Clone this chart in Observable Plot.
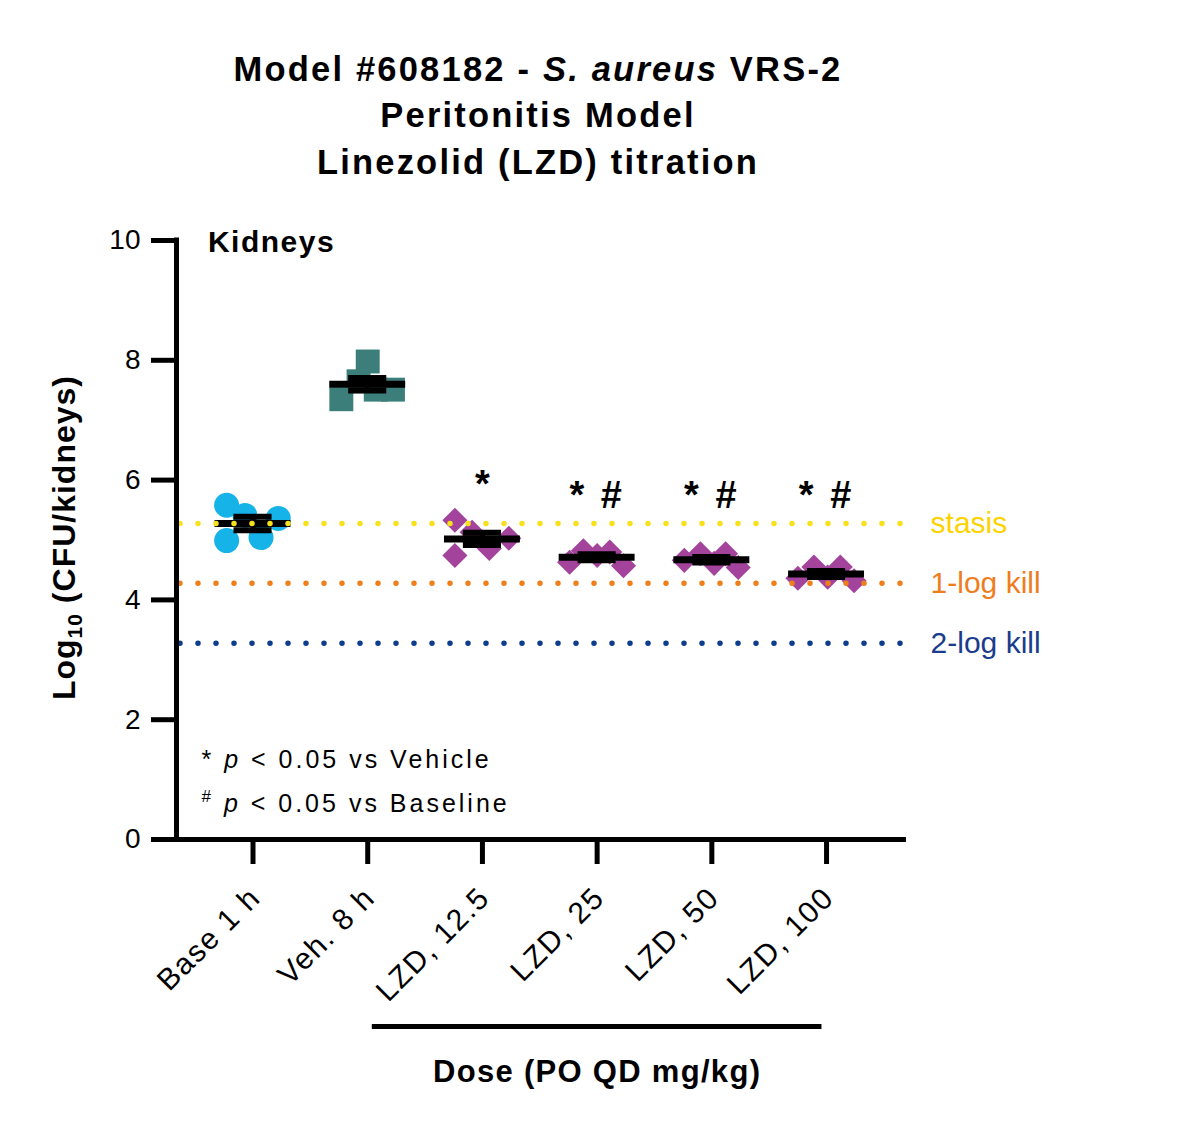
<!DOCTYPE html>
<html>
<head>
<meta charset="utf-8">
<script src="https://cdn.jsdelivr.net/npm/d3@7"></script>
<script src="https://cdn.jsdelivr.net/npm/@observablehq/plot@0.6"></script>
<style>
  html, body { margin: 0; padding: 0; background: #fff; }
  body { width: 1193px; height: 1134px; overflow: hidden; font-family: "Liberation Sans", Arial, sans-serif; }
  #title { box-sizing: border-box; width: 1076px; height: 200px; padding-top: 45.6px; text-align: center;
           font-weight: bold; font-size: 34.5px; line-height: 46.5px; letter-spacing: 2.2px; color: #000; }
  #chart svg { display: block; overflow: visible; }
</style>
</head>
<body>
<div id="title">Model #608182 - <i>S. aureus</i> VRS-2<br>Peritonitis Model<br>Linezolid (LZD) titration</div>
<div id="chart"></div>
<script>
// ---- data ----
const groups = ["Base 1 h", "Veh. 8 h", "LZD, 12.5", "LZD, 25", "LZD, 50", "LZD, 100"];
const baseVals   = [5.58, 5.41, 5.36, 4.99, 5.04];
const vehVals    = [7.98, 7.35, 7.51, 7.51, 7.65];
const lzd125Vals = [5.33, 4.74, 5.13, 4.86, 5.03];
const lzd25Vals  = [4.63, 4.82, 4.74, 4.80, 4.57];
const lzd50Vals  = [4.66, 4.77, 4.61, 4.77, 4.54];
const lzd100Vals = [4.36, 4.55, 4.38, 4.55, 4.32];
// horizontal scatter of the points within each group (category units)
const baseJit   = [-0.23, -0.07, 0.22, -0.23, 0.07];
const vehJit    = [0.00, -0.23, 0.07, 0.22, -0.08];
const lzd125Jit = [-0.24, -0.24, -0.09, 0.06, 0.23];
const lzd25Jit  = [-0.24, -0.12, 0.00, 0.11, 0.23];
const lzd50Jit  = [-0.24, -0.10, 0.02, 0.12, 0.23];
const lzd100Jit = [-0.25, -0.11, 0.01, 0.12, 0.24];
const sigMarks  = ["", "", "*", "* #", "* #", "* #"];
const yTicks    = [0, 2, 4, 6, 8, 10];
const refNames  = ["stasis", "1-log kill", "2-log kill"];
const refKills  = [0, 1, 2];

const allVals = [baseVals, vehVals, lzd125Vals, lzd25Vals, lzd50Vals, lzd100Vals];
const allJit  = [baseJit, vehJit, lzd125Jit, lzd25Jit, lzd50Jit, lzd100Jit];

const rows = [];
allVals.forEach((vals, g) => vals.forEach((v, k) => rows.push({g, x: g + allJit[g][k], y: v})));
const stats = allVals.map((vals, i) => {
  const m = d3.mean(vals), s = d3.deviation(vals) / Math.sqrt(vals.length);
  return {i, mean: m, lo: m - s, hi: m + s, sig: sigMarks[i], label: groups[i]};
});
const baseMean = stats[0].mean;
const refColors = ["#F7E11A", "#EF7F1A", "#0E3D8E"];
const refTextColors = ["#FCD200", "#EE7D1E", "#1A3C8C"];
const refs = refNames.map((n, k) => ({name: n, value: baseMean - refKills[k], stroke: refColors[k], text: refTextColors[k]}));

const xDomain = [-0.667, 5.697];
const CYAN = "#15B3E8", TEAL = "#3C7E7A", PURPLE = "#A3439B";

const plot = Plot.plot({
  width: 1193,
  height: 934,
  marginLeft: 176,
  marginRight: 287,
  marginTop: 40,
  marginBottom: 295,
  style: {fontFamily: '"Liberation Sans", Arial, sans-serif', color: "#000", background: "#fff", overflow: "visible"},
  x: {type: "linear", domain: xDomain},
  y: {domain: [0, 10]},
  marks: [
    Plot.axisY({ticks: yTicks, tickSize: 25, tickPadding: 11, fontSize: 28, strokeWidth: 5, label: null}),
    Plot.axisX({ticks: d3.range(groups.length), tickFormat: () => "", tickSize: 25, strokeWidth: 5, label: null}),
    // category labels, rotated
    Plot.text(stats, {x: "i", y: 0, text: "label", rotate: -45, textAnchor: "end", lineAnchor: "top",
                      dx: -6, dy: 45, fontSize: 30}),
    // points
    Plot.dot(rows.filter(d => d.g === 0), {x: "x", y: "y", r: 12.5, fill: CYAN, symbol: "circle"}),
    Plot.dot(rows.filter(d => d.g === 1), {x: "x", y: "y", r: 13.5, fill: TEAL, symbol: "square"}),
    Plot.dot(rows.filter(d => d.g >= 2), {x: "x", y: "y", r: 10, rotate: 45, fill: PURPLE, symbol: "square"}),
    // mean and SEM
    Plot.ruleX(stats, {x: "i", y1: "lo", y2: "hi", strokeWidth: 5}),
    Plot.ruleY(stats, {y: "hi", x1: d => d.i - 0.166, x2: d => d.i + 0.166, strokeWidth: 6}),
    Plot.ruleY(stats, {y: "lo", x1: d => d.i - 0.166, x2: d => d.i + 0.166, strokeWidth: 6}),
    Plot.ruleY(stats, {y: "mean", x1: d => d.i - 0.331, x2: d => d.i + 0.331, strokeWidth: 7}),
    // reference lines
    Plot.ruleY(refs, {y: "value", x1: xDomain[0], x2: 5.62, stroke: "stroke", strokeWidth: 5.5,
                      strokeDasharray: "0 18", strokeLinecap: "round", dx: 4}),
    Plot.text(refs, {x: 5.907, y: "value", text: "name", fill: "text", textAnchor: "start", lineAnchor: "middle", fontSize: 30}),
    // axes lines
    Plot.ruleX([xDomain[0]], {y1: 0, y2: 10, strokeWidth: 5, strokeLinecap: "square"}),
    Plot.ruleY([0], {x1: xDomain[0], x2: xDomain[1], strokeWidth: 5}),
    // significance
    Plot.text(stats.filter(d => d.sig === "*"), {x: "i", y: 5.72, text: "sig", fontSize: 38, fontWeight: "bold", lineAnchor: "bottom"}),
    Plot.text(stats.filter(d => d.sig === "* #"), {x: "i", y: 5.54, text: "sig", fontSize: 38, fontWeight: "bold", lineAnchor: "bottom"}),
    // panel label
    Plot.text(["Kidneys"], {x: -0.393, y: 9.8, text: d => d, fontSize: 30, fontWeight: "bold", textAnchor: "start", lineAnchor: "bottom"}),
    // dose bracket + label
    Plot.ruleY([-3.12], {x1: 1.04, x2: 4.96, strokeWidth: 5}),
    Plot.text(["Dose (PO QD mg/kg)"], {x: 3.0, y: -4.05, text: d => d, fontSize: 31, fontWeight: "bold", lineAnchor: "bottom"})
  ]
});

document.getElementById("chart").appendChild(plot);

const svg = d3.select(plot);
const xs = plot.scale("x"), ys = plot.scale("y");
const spacing = {"Kidneys": "1.5px", "Dose (PO QD mg/kg)": "1.3px", "* #": "3px"};
groups.forEach(g => spacing[g] = "1.6px");
svg.selectAll("text").each(function() {
  const s = spacing[this.textContent];
  if (s) d3.select(this).style("letter-spacing", s);
});

// y axis title with subscript
const yl = svg.append("text")
  .attr("transform", `translate(75, ${ys.apply(5) - 2}) rotate(-90)`)
  .attr("text-anchor", "middle")
  .attr("font-weight", "bold").attr("font-size", 32).style("letter-spacing", "1px").attr("fill", "#000");
yl.append("tspan").text("Log");
yl.append("tspan").attr("font-size", 21).attr("dy", 7).text("10");
yl.append("tspan").attr("dy", -7).text(" (CFU/kidneys)");

// legend
const legX = xs.apply(-0.445);
const l1 = svg.append("text").attr("x", legX).attr("y", ys.apply(1.185)).attr("text-anchor", "start")
  .attr("font-size", 25).style("letter-spacing", "3px").attr("fill", "#000");
l1.append("tspan").text("* ");
l1.append("tspan").attr("font-style", "italic").text("p");
l1.append("tspan").text(" < 0.05 vs Vehicle");
const l2 = svg.append("text").attr("x", legX).attr("y", ys.apply(0.45)).attr("text-anchor", "start")
  .attr("font-size", 25).style("letter-spacing", "3px").attr("fill", "#000");
l2.append("tspan").attr("font-size", 17).attr("dy", -10).text("#");
l2.append("tspan").attr("dy", 10).text(" ");
l2.append("tspan").attr("font-style", "italic").text("p");
l2.append("tspan").text(" < 0.05 vs Baseline");
</script>
</body>
</html>
